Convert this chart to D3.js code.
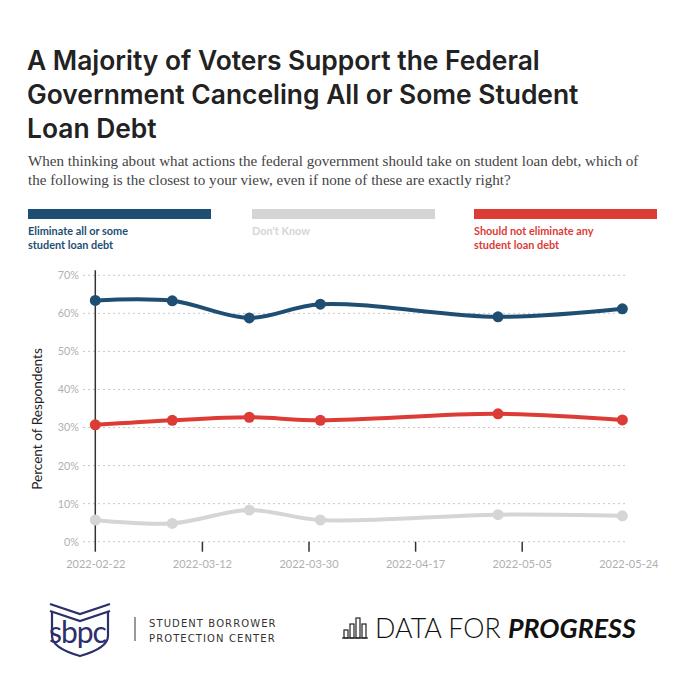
<!DOCTYPE html>
<html>
<head>
<meta charset="utf-8">
<script src="https://cdn.jsdelivr.net/npm/d3@7"></script>
<style>
  html, body { margin: 0; padding: 0; background: #fff; }
  svg { display: block; }
</style>
</head>
<body>
<svg id="chart" width="680" height="680"></svg>
<script>
// ---- data ----
const dates = ["2022-02-22", "2022-03-07", "2022-03-20", "2022-04-01", "2022-05-01", "2022-05-22"];
const eliminate = [63.4, 63.3, 58.8, 62.4, 59.1, 61.2];
const dontKnow = [5.7, 4.8, 8.3, 5.7, 7.1, 6.8];
const shouldNot = [30.7, 31.9, 32.7, 31.9, 33.6, 32.0];
const yTicks = [0, 10, 20, 30, 40, 50, 60, 70];
const xTickDates = ["2022-02-22", "2022-03-12", "2022-03-30", "2022-04-17", "2022-05-05", "2022-05-23"];
const xTickLabels = ["2022-02-22", "2022-03-12", "2022-03-30", "2022-04-17", "2022-05-05", "2022-05-24"];
const seriesNames = ["Eliminate all or some\nstudent loan debt", "Don't Know", "Should not eliminate any\nstudent loan debt"];
const seriesColors = ["#1e4f73", "#d5d5d5", "#dc3b36"];
const title = ["A Majority of Voters Support the Federal", "Government Canceling All or Some Student", "Loan Debt"];
const subtitle = ["When thinking about what actions the federal government should take on student loan debt, which of",
                  "the following is the closest to your view, even if none of these are exactly right?"];

const parse = d3.utcParse("%Y-%m-%d");
const svg = d3.select("#chart");
const sans = "Lato, 'Open Sans', sans-serif";

// ---- title / subtitle ----
svg.append("text").attr("x", 28).attr("y", 70)
  .attr("font-family", "Inter, Lato, sans-serif").attr("font-weight", 600).attr("font-size", 26.4)
  .attr("fill", "#222")
  .selectAll("tspan").data(title).join("tspan")
  .attr("x", 27).attr("dy", (d, i) => i === 0 ? 0 : 34).text(d => d);

svg.append("text").attr("x", 28).attr("y", 166)
  .attr("font-family", "'Liberation Serif', 'DejaVu Serif', serif").attr("font-size", 15.1).attr("fill", "#444")
  .selectAll("tspan").data(subtitle).join("tspan")
  .attr("x", 28).attr("dy", (d, i) => i === 0 ? 0 : 18.5).text(d => d);

// ---- legend ----
const legX = [28, 252, 474];
const leg = svg.append("g");
seriesNames.forEach((name, i) => {
  leg.append("rect").attr("x", legX[i]).attr("y", 209).attr("width", 183).attr("height", 10)
    .attr("fill", seriesColors[i]);
  leg.append("text").attr("x", legX[i]).attr("y", 235)
    .attr("font-family", sans).attr("font-weight", 700).attr("font-size", 10.9)
    .attr("fill", seriesColors[i])
    .selectAll("tspan").data(name.split("\n")).join("tspan")
    .attr("x", legX[i]).attr("dy", (d, j) => j === 0 ? 0 : 13.5).text(d => d);
});

// ---- scales ----
const x = d3.scaleUtc().domain([parse("2022-02-22"), parse("2022-05-23")]).range([95.3, 628.3]);
const y = d3.scaleLinear().domain([0, 70]).range([541.7, 275.3]);

// grid
const grid = svg.append("g");
grid.selectAll("line").data(yTicks).join("line")
  .attr("x1", 83).attr("x2", 627)
  .attr("y1", d => y(d)).attr("y2", d => y(d))
  .attr("stroke", "#c8c8c8").attr("stroke-width", 1).attr("stroke-dasharray", "2,3");

// y axis labels
const yAxis = svg.append("g").attr("transform", "translate(79,0)")
  .call(d3.axisLeft(y).tickValues(yTicks).tickFormat(d => d + "%").tickSize(0).tickPadding(0));
yAxis.select(".domain").remove();
yAxis.selectAll("text").attr("font-family", sans).attr("font-size", 10.8).attr("fill", "#b0b0b0");

// x axis
const xAxis = svg.append("g").attr("transform", "translate(0,541.7)")
  .call(d3.axisBottom(x).tickValues(xTickDates.map(parse))
    .tickFormat((d, i) => xTickLabels[i]).tickSize(10).tickPadding(9));
xAxis.select(".domain").remove();
xAxis.selectAll("line").attr("stroke", "#333").attr("stroke-width", 1.5)
  .attr("opacity", (d, i) => (i === 0 || i === xTickDates.length - 1) ? 0 : 1);
xAxis.selectAll("text").attr("font-family", sans).attr("font-size", 11).attr("fill", "#b0b0b0");

// vertical baseline at start
svg.append("line").attr("x1", x(parse(dates[0]))).attr("x2", x(parse(dates[0])))
  .attr("y1", y(70) - 5).attr("y2", y(0) + 10).attr("stroke", "#333").attr("stroke-width", 1.5);

// y axis title
svg.append("text").attr("transform", "translate(42,419) rotate(-90)")
  .attr("text-anchor", "middle").attr("font-family", sans).attr("font-size", 13.6).attr("fill", "#222")
  .text("Percent of Respondents");

// ---- lines ----
const allSeries = [dontKnow, shouldNot, eliminate];
const allColors = [seriesColors[1], seriesColors[2], seriesColors[0]];
const line = d3.line().x((d, i) => x(parse(dates[i]))).y(d => y(d)).curve(d3.curveCatmullRom.alpha(0.5));
allSeries.forEach((vals, k) => {
  const g = svg.append("g");
  g.append("path").datum(vals).attr("d", line).attr("fill", "none")
    .attr("stroke", allColors[k]).attr("stroke-width", 4).attr("stroke-linecap", "round");
  g.selectAll("circle").data(vals).join("circle")
    .attr("cx", (d, i) => x(parse(dates[i]))).attr("cy", d => y(d)).attr("r", 5.5)
    .attr("fill", allColors[k]);
});

// ---- footer logos ----
const foot = svg.append("g");
const navy = "#2b2f6b";
// SBPC shield
foot.append("path")
  .attr("d", "M50,604 L80,614 L110,604 M50,611 L80,621 L110,611 M52,611 L52,636 Q52,648 80,656 Q108,648 108,636 L108,611")
  .attr("fill", "none").attr("stroke", navy).attr("stroke-width", 2.2);
foot.append("text").attr("x", 49).attr("y", 643).attr("font-family", sans).attr("font-size", 30)
  .attr("fill", navy).attr("letter-spacing", -1).text("sbpc");
foot.append("line").attr("x1", 135).attr("x2", 135).attr("y1", 617).attr("y2", 641)
  .attr("stroke", "#555").attr("stroke-width", 1.2);
foot.append("text").attr("x", 149).attr("y", 627).attr("font-family", "'DejaVu Sans', sans-serif")
  .attr("font-size", 10).attr("letter-spacing", 1.1).attr("fill", "#333").text("STUDENT BORROWER");
foot.append("text").attr("x", 149).attr("y", 642).attr("font-family", "'DejaVu Sans', sans-serif")
  .attr("font-size", 10).attr("letter-spacing", 1.1).attr("fill", "#333").text("PROTECTION CENTER");

// Data for Progress icon (small bars)
const iconBars = [[344, 630, 4, 8], [350, 624, 4, 14], [356, 618, 4, 20], [362, 624, 4, 14]];
foot.selectAll("rect.icon").data(iconBars).join("rect").attr("class", "icon")
  .attr("x", d => d[0]).attr("y", d => d[1]).attr("width", d => d[2]).attr("height", d => d[3])
  .attr("fill", "none").attr("stroke", "#222").attr("stroke-width", 1.2);
foot.append("line").attr("x1", 342).attr("x2", 368).attr("y1", 638).attr("y2", 638).attr("stroke", "#222").attr("stroke-width", 1.2);
const dfp = foot.append("text").attr("x", 375).attr("y", 638).attr("font-family", sans).attr("font-size", 26.8).attr("fill", "#111");
dfp.append("tspan").attr("font-weight", 300).text("DATA FOR ");
dfp.append("tspan").attr("font-weight", 700).attr("font-style", "italic").text("PROGRESS");
</script>
</body>
</html>
